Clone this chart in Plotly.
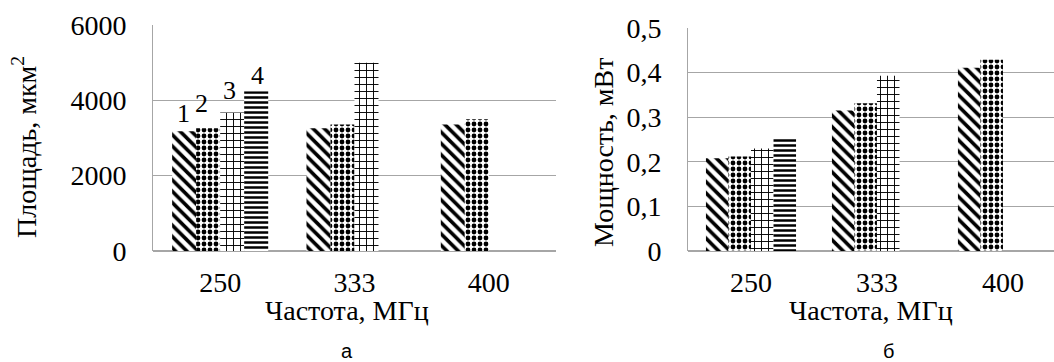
import plotly.graph_objects as go

# ---- data ----
categories = ["250", "333", "400"]
area_s1 = [3180, 3260, 3360]
area_s2 = [3260, 3360, 3500]
area_s3 = [3680, 5000, None]
area_s4 = [4240, None, None]

power_s1 = [0.208, 0.315, 0.411]
power_s2 = [0.212, 0.331, 0.429]
power_s3 = [0.230, 0.393, None]
power_s4 = [0.255, None, None]

series_labels = ["1", "2", "3", "4"]

area_ticks = [0, 2000, 4000, 6000]
area_ticktext = ["0", "2000", "4000", "6000"]
power_ticks = [0, 0.1, 0.2, 0.3, 0.4, 0.5]
power_ticktext = ["0", "0,1", "0,2", "0,3", "0,4", "0,5"]

x_title = "Частота, МГц"
y1_title = "Площадь, мкм<sup>2</sup>"
y2_title = "Мощность, мВт"
panel_labels = ["а", "б"]

# ---- style ----
W, H = 1054, 362
SERIF = "Liberation Serif, Times New Roman, serif"
SANS = "Liberation Sans, Arial, sans-serif"
GRID = "#a6a6a6"
patterns = [
    dict(shape="\\", size=8, solidity=0.45, fgcolor="black", bgcolor="white", fillmode="replace"),
    dict(shape=".", size=6, solidity=0.5, fgcolor="black", bgcolor="white", fillmode="replace"),
    dict(shape="+", size=7, solidity=0.25, fgcolor="black", bgcolor="white", fillmode="replace"),
    dict(shape="-", size=5, solidity=0.5, fgcolor="black", bgcolor="white", fillmode="replace"),
]

fig = go.Figure()
area = [area_s1, area_s2, area_s3, area_s4]
power = [power_s1, power_s2, power_s3, power_s4]
for i in range(4):
    fig.add_trace(go.Bar(x=categories, y=area[i], xaxis="x", yaxis="y",
                         marker=dict(color="white", pattern=patterns[i], line=dict(width=0)),
                         showlegend=False, name=series_labels[i]))
for i in range(4):
    fig.add_trace(go.Bar(x=categories, y=power[i], xaxis="x2", yaxis="y2",
                         marker=dict(color="white", pattern=patterns[i], line=dict(width=0)),
                         showlegend=False, name=series_labels[i]))

def px_x(p):
    return p / W

def px_y(p):
    return 1 - p / H

tickfont = dict(family=SERIF, size=28, color="black")
titlefont = dict(family=SERIF, size=28, color="black")

# series number labels above bars of first group (left chart)
label_dx = [0, -6, -3, 1]
label_dy = [18, 25, 22, 16]
annotations = []
for i in range(4):
    annotations.append(dict(x=0, y=area[i][0], xref="x", yref="y", text=series_labels[i],
                            showarrow=False, xshift=label_dx[i] + (i - 1.5) * 24.5,
                            yshift=label_dy[i], yanchor="middle",
                            font=dict(family=SERIF, size=26, color="black")))
# x-axis titles
annotations.append(dict(x=px_x(347), y=px_y(310), xref="paper", yref="paper", text=x_title,
                        showarrow=False, font=titlefont, xanchor="center", yanchor="middle"))
annotations.append(dict(x=px_x(871), y=px_y(310), xref="paper", yref="paper", text=x_title,
                        showarrow=False, font=titlefont, xanchor="center", yanchor="middle"))
# y-axis titles
annotations.append(dict(x=px_x(24), y=px_y(147), xref="paper", yref="paper", text=y1_title,
                        showarrow=False, font=titlefont, textangle=-90,
                        xanchor="center", yanchor="middle"))
annotations.append(dict(x=px_x(603), y=px_y(152), xref="paper", yref="paper", text=y2_title,
                        showarrow=False, font=titlefont, textangle=-90,
                        xanchor="center", yanchor="middle"))
# panel labels
annotations.append(dict(x=px_x(347), y=px_y(351), xref="paper", yref="paper", text=panel_labels[0],
                        showarrow=False, font=dict(family=SANS, size=20, color="black"),
                        xanchor="center", yanchor="middle"))
annotations.append(dict(x=px_x(888), y=px_y(351), xref="paper", yref="paper", text=panel_labels[1],
                        showarrow=False, font=dict(family=SANS, size=20, color="black"),
                        xanchor="center", yanchor="middle"))

fig.update_layout(
    width=W, height=H, margin=dict(l=0, r=0, t=0, b=0),
    paper_bgcolor="white", plot_bgcolor="white",
    barmode="group", bargap=0.285,
    annotations=annotations,
    xaxis=dict(domain=[px_x(153), px_x(556)], anchor="y", type="category",
               range=[-0.5, 2.5], showgrid=False, showline=False, ticks="",
               tickfont=tickfont, automargin=False, ticklabelstandoff=12),
    yaxis=dict(domain=[px_y(251), px_y(25)], anchor="x", range=[0, 6000],
               tickvals=area_ticks, ticktext=area_ticktext, showgrid=True,
               gridcolor=GRID, gridwidth=1, showline=True, linecolor=GRID,
               zeroline=True, zerolinecolor=GRID, ticks="", ticklabelstandoff=20,
               tickfont=tickfont, automargin=False),
    xaxis2=dict(domain=[px_x(688), 1.0], anchor="y2", type="category",
                range=[-0.5, 2.405], showgrid=False, showline=False, ticks="",
                tickfont=tickfont, automargin=False, ticklabelstandoff=12),
    yaxis2=dict(domain=[px_y(251), px_y(28)], anchor="x2", range=[0, 0.5],
                tickvals=power_ticks, ticktext=power_ticktext, showgrid=True,
                gridcolor=GRID, gridwidth=1, showline=True, linecolor=GRID,
                zeroline=True, zerolinecolor=GRID, ticks="", ticklabelstandoff=20,
                tickfont=tickfont, automargin=False),
)

fig.write_html("out.html", config={"displayModeBar": False},
               post_script="document.body.style.margin='0';")
